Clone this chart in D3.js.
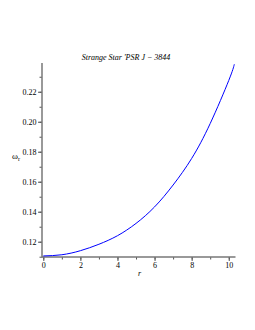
<!DOCTYPE html>
<html>
<head>
<meta charset="utf-8">
<script src="https://cdn.jsdelivr.net/npm/d3@7"></script>
<style>
  body { margin: 0; background: #fff; }
  svg { display: block; }
  .tick text { font-family: "Liberation Serif", "DejaVu Serif", serif; font-size: 8px; fill: #000; }
</style>
</head>
<body>
<div id="chart"></div>
<script>
// radial coordinate r and the value of omega_r
var rValues = [0, 1, 2, 3, 4, 5, 6, 7, 8, 9, 10, 10.3];
var omegaValues = [0.1105, 0.1113, 0.1140, 0.1183, 0.1240, 0.1322, 0.1432, 0.1578, 0.1755, 0.1988, 0.2275, 0.2383];
var xTicks = [0, 2, 4, 6, 8, 10];
var yTicks = [0.12, 0.14, 0.16, 0.18, 0.20, 0.22];
var chartTitle = "Strange Star 'PSR J \u2212 3844";

var width = 255, height = 330;

var svg = d3.select("#chart")
    .append("svg")
        .attr("width", width)
        .attr("height", height);

var x = d3.scaleLinear()
    .domain([0, 10.3])
    .range([43.3, 234.3]);

var y = d3.scaleLinear()
    .domain([0.1098, 0.2385])
    .range([257, 64]);

// minor ticks first, then the labelled ones
svg.append("g")
    .attr("transform", "translate(0,257)")
    .call(d3.axisBottom(x).tickValues(d3.range(0, 11, 1)).tickSize(2.5).tickFormat(""))
    .call(function(g){ g.select(".domain").remove(); })
    .selectAll("line").attr("stroke", "#555");

svg.append("g")
    .attr("transform", "translate(42,0)")
    .call(d3.axisLeft(y).tickValues(d3.range(0.11, 0.235, 0.01)).tickSize(2.5).tickFormat(""))
    .call(function(g){ g.select(".domain").remove(); })
    .selectAll("line").attr("stroke", "#555");

var xAxis = svg.append("g")
    .attr("transform", "translate(0,257)")
    .call(d3.axisBottom(x).tickValues(xTicks).tickSize(4).tickPadding(1).tickFormat(d3.format("d")));
xAxis.select(".domain").remove();
xAxis.selectAll("line").attr("stroke", "#555");

var yAxis = svg.append("g")
    .attr("transform", "translate(42,0)")
    .call(d3.axisLeft(y).tickValues(yTicks).tickSize(4).tickPadding(1.5).tickFormat(d3.format(".2f")));
yAxis.select(".domain").remove();
yAxis.selectAll("line").attr("stroke", "#555");

// axis lines
svg.append("line")
    .attr("x1", 42).attr("x2", 235.5)
    .attr("y1", 257).attr("y2", 257)
    .attr("stroke", "#777").attr("stroke-width", 1.5);
svg.append("line")
    .attr("x1", 42).attr("x2", 42)
    .attr("y1", 257.5).attr("y2", 63)
    .attr("stroke", "#777").attr("stroke-width", 1.5);

// the curve
var line = d3.line()
    .x(function(d, i) { return x(rValues[i]); })
    .y(function(d) { return y(d); })
    .curve(d3.curveNatural);

svg.append("path")
    .datum(omegaValues)
    .attr("d", line)
    .attr("fill", "none")
    .attr("stroke", "#0000ff")
    .attr("stroke-width", 1);

// title and axis labels
svg.append("text")
    .attr("x", 126)
    .attr("y", 59.5)
    .attr("text-anchor", "middle")
    .style("font-family", "Liberation Serif, serif")
    .style("font-style", "italic")
    .style("font-size", "8px")
    .text(chartTitle);

svg.append("text")
    .attr("x", 138)
    .attr("y", 276)
    .style("font-family", "Liberation Serif, serif")
    .style("font-style", "italic")
    .style("font-size", "8px")
    .text("r");

var yLabel = svg.append("text")
    .attr("x", 12)
    .attr("y", 159)
    .style("font-family", "Liberation Serif, serif")
    .style("font-size", "9px");
yLabel.append("tspan").text("\u03c9");
yLabel.append("tspan").attr("dy", 2).style("font-size", "6px").text("r");
</script>
</body>
</html>
